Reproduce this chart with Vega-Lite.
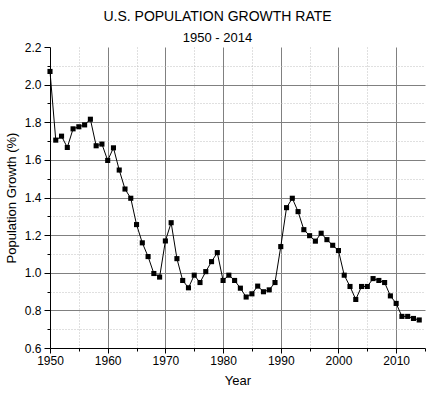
{
  "$schema": "https://vega.github.io/schema/vega-lite/v6.json",
  "width": 375,
  "height": 301,
  "autosize": "none",
  "padding": {"left": 50, "top": 47, "right": 8, "bottom": 50},
  "background": "white",
  "title": {
    "text": "U.S. POPULATION GROWTH RATE",
    "subtitle": "1950 - 2014",
    "font": "Liberation Sans",
    "fontSize": 14,
    "fontWeight": "normal",
    "color": "black",
    "subtitleFont": "Liberation Sans",
    "subtitleFontSize": 13,
    "subtitleColor": "black",
    "anchor": "middle",
    "dx": -20,
    "offset": -4,
    "subtitlePadding": 8
  },
  "config": {
    "view": {"stroke": null},
    "axis": {
      "labelFont": "Liberation Sans",
      "labelFontSize": 12,
      "labelColor": "black",
      "titleFont": "Liberation Sans",
      "titleFontSize": 13,
      "titleFontWeight": "normal",
      "titleColor": "black",
      "domainColor": "black",
      "tickColor": "black"
    }
  },
  "data": {
    "values": [
      {"year": 1950, "rate": 2.07},
      {"year": 1951, "rate": 1.705},
      {"year": 1952, "rate": 1.726},
      {"year": 1953, "rate": 1.666},
      {"year": 1954, "rate": 1.765},
      {"year": 1955, "rate": 1.776},
      {"year": 1956, "rate": 1.786},
      {"year": 1957, "rate": 1.816},
      {"year": 1958, "rate": 1.675},
      {"year": 1959, "rate": 1.684},
      {"year": 1960, "rate": 1.597},
      {"year": 1961, "rate": 1.664},
      {"year": 1962, "rate": 1.546},
      {"year": 1963, "rate": 1.445},
      {"year": 1964, "rate": 1.396},
      {"year": 1965, "rate": 1.256},
      {"year": 1966, "rate": 1.159},
      {"year": 1967, "rate": 1.086},
      {"year": 1968, "rate": 0.996},
      {"year": 1969, "rate": 0.977},
      {"year": 1970, "rate": 1.169},
      {"year": 1971, "rate": 1.266},
      {"year": 1972, "rate": 1.075},
      {"year": 1973, "rate": 0.959},
      {"year": 1974, "rate": 0.92},
      {"year": 1975, "rate": 0.987},
      {"year": 1976, "rate": 0.948},
      {"year": 1977, "rate": 1.006},
      {"year": 1978, "rate": 1.059},
      {"year": 1979, "rate": 1.107},
      {"year": 1980, "rate": 0.959},
      {"year": 1981, "rate": 0.987},
      {"year": 1982, "rate": 0.959},
      {"year": 1983, "rate": 0.918},
      {"year": 1984, "rate": 0.871},
      {"year": 1985, "rate": 0.888},
      {"year": 1986, "rate": 0.929},
      {"year": 1987, "rate": 0.899},
      {"year": 1988, "rate": 0.909},
      {"year": 1989, "rate": 0.948},
      {"year": 1990, "rate": 1.139},
      {"year": 1991, "rate": 1.346},
      {"year": 1992, "rate": 1.396},
      {"year": 1993, "rate": 1.325},
      {"year": 1994, "rate": 1.229},
      {"year": 1995, "rate": 1.197},
      {"year": 1996, "rate": 1.168},
      {"year": 1997, "rate": 1.21},
      {"year": 1998, "rate": 1.176},
      {"year": 1999, "rate": 1.146},
      {"year": 2000, "rate": 1.118},
      {"year": 2001, "rate": 0.987},
      {"year": 2002, "rate": 0.927},
      {"year": 2003, "rate": 0.858},
      {"year": 2004, "rate": 0.927},
      {"year": 2005, "rate": 0.927},
      {"year": 2006, "rate": 0.969},
      {"year": 2007, "rate": 0.959},
      {"year": 2008, "rate": 0.948},
      {"year": 2009, "rate": 0.877},
      {"year": 2010, "rate": 0.837},
      {"year": 2011, "rate": 0.768},
      {"year": 2012, "rate": 0.768},
      {"year": 2013, "rate": 0.757},
      {"year": 2014, "rate": 0.749}
    ]
  },
  "encoding": {
    "x": {
      "field": "year",
      "type": "quantitative",
      "scale": {"domain": [1950, 2015], "nice": false, "zero": false},
      "axis": {
        "title": "Year",
        "titlePadding": 8,
        "format": "d",
        "values": [1950, 1955, 1960, 1965, 1970, 1975, 1980, 1985, 1990, 1995, 2000, 2005, 2010, 2015],
        "labelExpr": "datum.value % 10 == 0 ? datum.label : ''",
        "labelPadding": 2,
        "labelFlush": false,
        "tickSize": {"condition": {"test": "datum.value % 10 != 0", "value": 3}, "value": 5},
        "grid": true,
        "gridColor": {"condition": {"test": "datum.value % 10 != 0", "value": "#c0c0c0"}, "value": "#808080"},
        "gridDash": {"condition": {"test": "datum.value % 10 != 0", "value": [1, 2]}, "value": []},
        "gridOpacity": {"condition": {"test": "datum.value >= 2015 || datum.value <= 1950", "value": 0}, "value": 1}
      }
    },
    "y": {
      "field": "rate",
      "type": "quantitative",
      "scale": {"domain": [0.6, 2.2], "nice": false, "zero": false},
      "axis": {
        "title": "Population Growth (%)",
        "titlePadding": 6,
        "values": [0.6, 0.7, 0.8, 0.9, 1.0, 1.1, 1.2, 1.3, 1.4, 1.5, 1.6, 1.7, 1.8, 1.9, 2.0, 2.1, 2.2],
        "labelExpr": "round(datum.value * 10) % 2 == 0 ? format(datum.value, '.1f') : ''",
        "labelPadding": 3,
        "labelFlush": false,
        "tickSize": {"condition": {"test": "round(datum.value * 10) % 2 == 1", "value": 3}, "value": 6},
        "grid": true,
        "gridColor": {"condition": {"test": "round(datum.value * 10) % 2 == 1", "value": "#c0c0c0"}, "value": "#808080"},
        "gridDash": {"condition": {"test": "round(datum.value * 10) % 2 == 1", "value": [1, 2]}, "value": []},
        "gridOpacity": {"condition": {"test": "datum.value >= 2.19 || datum.value <= 0.61", "value": 0}, "value": 1}
      }
    }
  },
  "layer": [
    {"mark": {"type": "line", "color": "black", "strokeWidth": 1}},
    {"mark": {"type": "point", "shape": "square", "filled": true, "color": "black", "opacity": 1, "size": 26}}
  ]
}
